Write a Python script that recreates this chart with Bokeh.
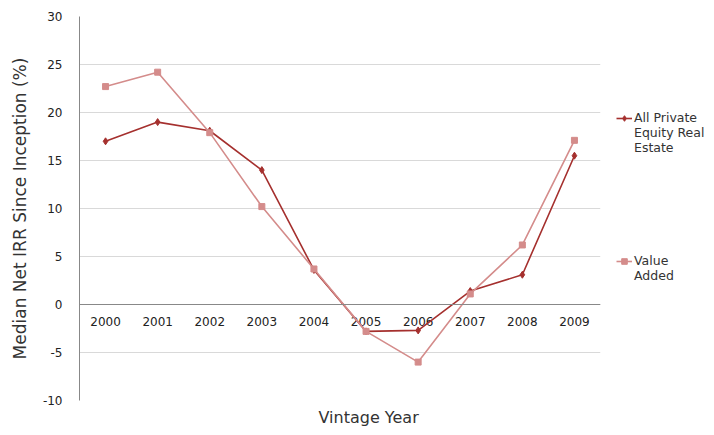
from bokeh.plotting import figure
from bokeh.models import Legend, LegendItem, Span, FixedTicker, ColumnDataSource, Title
from bokeh.core.properties import value
from bokeh.embed import file_html
from bokeh.resources import INLINE

years = ["2000", "2001", "2002", "2003", "2004", "2005", "2006", "2007", "2008", "2009"]
all_pere = [17.0, 19.0, 18.1, 14.0, 3.6, -2.8, -2.7, 1.4, 3.1, 15.5]
value_added = [22.7, 24.2, 17.9, 10.2, 3.7, -2.8, -6.0, 1.1, 6.2, 17.1]
y_ticks = [-10, -5, 0, 5, 10, 15, 20, 25, 30]
legend_lines_1 = ["All Private", "Equity Real", "Estate"]
legend_lines_2 = ["Value", "Added"]
x_title = "Vintage Year"
y_title = "Median Net IRR Since Inception (%)"

FONT = "DejaVu Sans"
DARK = "#A5302E"
LIGHT = "#D48C8B"

p = figure(frame_width=521, frame_height=384, x_range=years, y_range=(-10, 30),
           output_backend="svg", toolbar_location=None,
           min_border_left=79, min_border_right=114, min_border_top=16, min_border_bottom=35)
p.outline_line_color = None
p.background_fill_color = "white"

p.xgrid.grid_line_color = None
p.ygrid.grid_line_color = "#D9D9D9"
p.ygrid.grid_line_width = 1
p.ygrid.ticker = FixedTicker(ticks=y_ticks)

p.yaxis.ticker = FixedTicker(ticks=y_ticks)
p.yaxis.major_label_overrides = {t: str(t) for t in y_ticks}
p.yaxis.axis_line_color = "#888888"
p.yaxis.major_tick_line_color = None
p.yaxis.minor_tick_line_color = None
p.yaxis.major_label_text_font = FONT
p.yaxis.major_label_text_font_size = "12px"
p.yaxis.major_label_text_color = "#222222"
p.yaxis.major_label_standoff = 11
p.yaxis.axis_label = y_title
p.yaxis.axis_label_text_font = FONT
p.yaxis.axis_label_text_font_style = "normal"
p.yaxis.axis_label_text_font_size = "17px"
p.yaxis.axis_label_text_color = "#333333"
p.yaxis.axis_label_standoff = 10

p.xaxis.visible = False
p.add_layout(Title(text=x_title, align="left", vertical_align="top", text_font=FONT,
                   text_font_style="normal", text_font_size="16px",
                   text_color="#333333", standoff=15, offset=239), "below")

zero = Span(location=0, dimension="width", line_color="#888888", line_width=1)
p.add_layout(zero)

src = ColumnDataSource(dict(x=years, y0=[0] * len(years), a=all_pere, v=value_added))
p.text(x="x", y="y0", text="x", source=src, text_align="center", text_baseline="middle",
       y_offset=17, text_font=value(FONT), text_font_size="12px", text_color="#222222")

l1 = p.line("x", "a", source=src, line_color=DARK, line_width=1.6)
m1 = p.scatter("x", "a", source=src, marker="diamond", size=7, fill_color=DARK, line_color=DARK)
l2 = p.line("x", "v", source=src, line_color=LIGHT, line_width=1.6)
m2 = p.scatter("x", "v", source=src, marker="square", size=6, fill_color=LIGHT, line_color=LIGHT)
blank = p.scatter(x=[], y=[], alpha=0)

items = [LegendItem(label=legend_lines_1[0], renderers=[l1, m1])]
items += [LegendItem(label=t, renderers=[blank]) for t in legend_lines_1[1:]]
items += [LegendItem(label=" ", renderers=[blank]) for _ in range(7)]
items += [LegendItem(label=legend_lines_2[0], renderers=[l2, m2])]
items += [LegendItem(label=t, renderers=[blank]) for t in legend_lines_2[1:]]

legend = Legend(items=items, location=(16, 117), spacing=0, glyph_width=16, glyph_height=14,
                label_height=14, label_text_font=FONT, label_text_font_size="12.5px",
                label_text_color="#333333", label_standoff=2, border_line_color=None,
                background_fill_alpha=0, padding=0, margin=0)
p.add_layout(legend, "right")

open("out.html", "w").write(file_html(p, INLINE))
